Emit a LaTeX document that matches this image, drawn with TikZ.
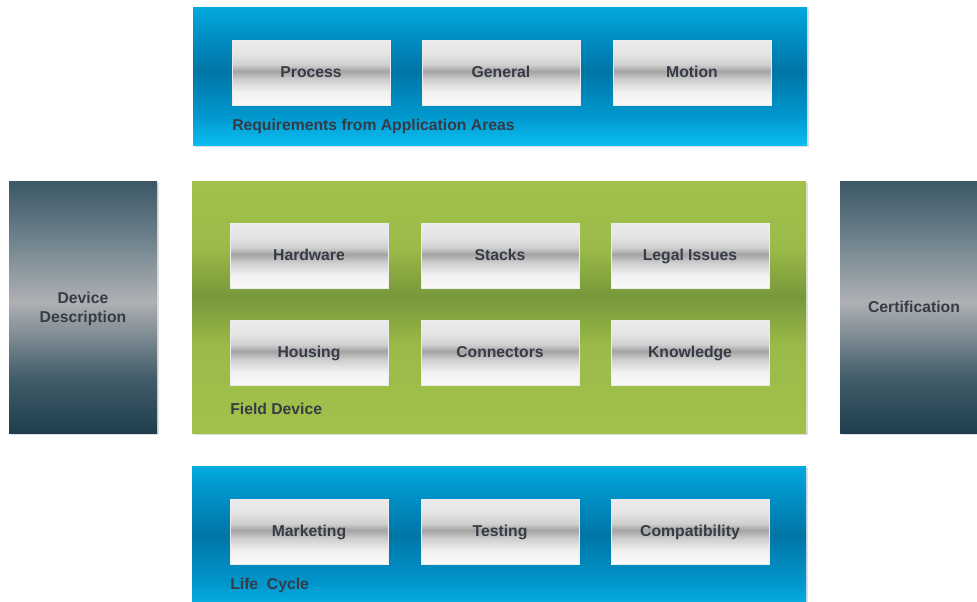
\documentclass[tikz,border=0pt]{standalone}
\usepackage{fontspec}
\setmainfont{Liberation Sans}
\usetikzlibrary{shadows}
\definecolor{txt}{HTML}{363B45}
\pgfdeclareverticalshading{boxshade}{100bp}{color(0bp)=(white); color(25bp)=(white!95!gray); color(35bp)=(black!5); color(45bp)=(black!20); color(51bp)=(black!36); color(56bp)=(black!19); color(65bp)=(black!10); color(75bp)=(black!8); color(100bp)=(black!8)}
\pgfdeclareverticalshading{blueshade}{100bp}{color(0bp)=(rgb,255:red,11;green,189;blue,240); color(25bp)=(rgb,255:red,11;green,189;blue,240); color(36bp)=(rgb,255:red,0;green,150;blue,204); color(52bp)=(rgb,255:red,0;green,117;blue,166); color(66bp)=(rgb,255:red,0;green,146;blue,200); color(75bp)=(rgb,255:red,3;green,170;blue,222); color(100bp)=(rgb,255:red,3;green,170;blue,222)}
\pgfdeclareverticalshading{greenshade}{100bp}{color(0bp)=(rgb,255:red,161;green,193;blue,76); color(25bp)=(rgb,255:red,161;green,193;blue,76); color(42bp)=(rgb,255:red,155;green,187;blue,73); color(52bp)=(rgb,255:red,119;green,152;blue,58); color(62bp)=(rgb,255:red,155;green,187;blue,73); color(75bp)=(rgb,255:red,161;green,193;blue,76); color(100bp)=(rgb,255:red,161;green,193;blue,76)}
\pgfdeclareverticalshading{grayshade}{100bp}{color(0bp)=(rgb,255:red,31;green,62;blue,77); color(25bp)=(rgb,255:red,31;green,62;blue,77); color(36bp)=(rgb,255:red,66;green,93;blue,106); color(51bp)=(rgb,255:red,174;green,176;blue,180); color(64bp)=(rgb,255:red,108;green,128;blue,139); color(75bp)=(rgb,255:red,60;green,87;blue,101); color(100bp)=(rgb,255:red,60;green,87;blue,101)}
\tikzset{
  lblfont/.style={font=\bfseries\fontsize{11.8}{13.5}\selectfont},
  panel/.style={rectangle, inner sep=0pt, minimum width=614*0.75pt, drop shadow={shadow xshift=1.2pt, shadow yshift=-1.2pt, opacity=0.25}},
  bluepanel/.style={panel, shading=blueshade, minimum height=138*0.75pt},
  greenpanel/.style={panel, shading=greenshade, minimum height=252*0.75pt},
  sidepanel/.style={rectangle, inner sep=0pt, shading=grayshade, minimum width=148*0.75pt, minimum height=252*0.75pt, drop shadow={shadow xshift=1.2pt, shadow yshift=-1.2pt, opacity=0.25}},
  itembox/.style={rectangle, inner sep=0pt, shading=boxshade, draw=white!85!gray, line width=0.4pt, minimum width=158*0.75pt, minimum height=65*0.75pt, drop shadow={shadow xshift=1pt, shadow yshift=-1pt, opacity=0.3}},
  boxtext/.style={anchor=base, inner sep=0pt, text=txt, lblfont},
  paneltitle/.style={anchor=base west, inner sep=0pt, text=txt, lblfont}
}
\begin{document}
\begin{tikzpicture}[x=0.75pt, y=-0.75pt]
\clip (0,0) rectangle (977,601);
\fill[white] (0,0) rectangle (977,601);
% panels
\node[bluepanel] (req) at (500,76) {};
\node[greenpanel] (field) at (499,307) {};
\node[bluepanel, minimum height=150*0.75pt] (life) at (499,541) {};
\node[sidepanel] (dev) at (83,307) {};
\node[boxtext] (devtext1) at (83,303.3) {Device};
\node[boxtext] (devtext2) at (83,322) {Description};
\node[sidepanel] (cert) at (914,307) {};
\node[boxtext] (certtext) at (914,312.7) {Certification};
% top boxes
\node[itembox] (process) at (311,72.5) {};
\node[itembox] (general) at (501,72.5) {};
\node[itembox] (motion) at (692,72.5) {};
\node[boxtext] at (311,77.8) {Process};
\node[boxtext] at (501,77.8) {General};
\node[boxtext] at (692,77.8) {Motion};
\node[paneltitle] (reqlabel) at (232,130) {Requirements from Application Areas};
% field device boxes
\node[itembox] (hardware) at (309,255.5) {};
\node[itembox] (stacks) at (500,255.5) {};
\node[itembox] (legal) at (690,255.5) {};
\node[itembox] (housing) at (309,352.5) {};
\node[itembox] (connectors) at (500,352.5) {};
\node[itembox] (knowledge) at (690,352.5) {};
\node[boxtext] at (309,260.8) {Hardware};
\node[boxtext] at (500,260.8) {Stacks};
\node[boxtext] at (690,260.8) {Legal Issues};
\node[boxtext] at (309,357.8) {Housing};
\node[boxtext] at (500,357.8) {Connectors};
\node[boxtext] at (690,357.8) {Knowledge};
\node[paneltitle] (fieldlabel) at (230,414.7) {Field Device};
% life cycle boxes
\node[itembox] (marketing) at (309,531.5) {};
\node[itembox] (testing) at (500,531.5) {};
\node[itembox] (compat) at (690,531.5) {};
\node[boxtext] at (309,536.8) {Marketing};
\node[boxtext] at (500,536.8) {Testing};
\node[boxtext] at (690,536.8) {Compatibility};
\node[paneltitle] (lifelabel) at (230,589) {Life\ \ Cycle};
\end{tikzpicture}
\end{document}
